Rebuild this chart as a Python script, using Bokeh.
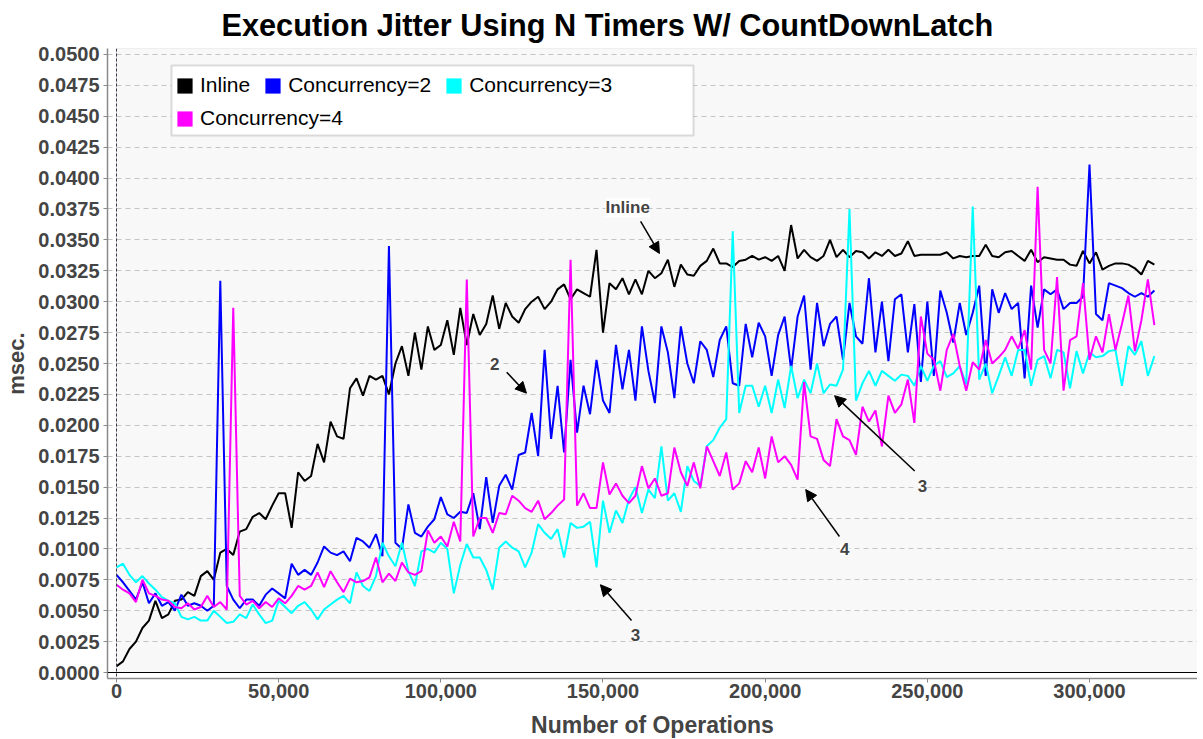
from bokeh.plotting import figure
from bokeh.models import (Range1d, FixedTicker, NumeralTickFormatter, Legend, LegendItem,
                          BoxAnnotation, Label, Arrow, NormalHead, Span)
from bokeh.embed import file_html
from bokeh.resources import INLINE

# ---------------- data (msec.) sampled every 2,000 operations ----------------
ops = list(range(0, 320001, 2000))

inline = [
    0.0005, 0.0009, 0.0019, 0.0025, 0.0036, 0.0042, 0.0058, 0.0044, 0.0047, 0.0058,
    0.0059, 0.0065, 0.0062, 0.0078, 0.0082, 0.0075, 0.0097, 0.0100, 0.0095, 0.0114,
    0.0116, 0.0126, 0.0129, 0.0124, 0.0135, 0.0145, 0.0145, 0.0117, 0.0162, 0.0155,
    0.0159, 0.0185, 0.0170, 0.0203, 0.0191, 0.0189, 0.0230, 0.0238, 0.0224, 0.0240,
    0.0237, 0.0240, 0.0225, 0.0250, 0.0264, 0.0240, 0.0275, 0.0245, 0.0280, 0.0261,
    0.0265, 0.0285, 0.0257, 0.0295, 0.0265, 0.0290, 0.0273, 0.0282, 0.0305, 0.0278,
    0.0299, 0.0288, 0.0283, 0.0294, 0.0300, 0.0304, 0.0294, 0.0300, 0.0310, 0.0314,
    0.0302, 0.0310, 0.0307, 0.0304, 0.0342, 0.0275, 0.0315, 0.0310, 0.0319, 0.0306,
    0.0318, 0.0306, 0.0325, 0.0319, 0.0323, 0.0334, 0.0312, 0.0330, 0.0322, 0.0321,
    0.0329, 0.0333, 0.0343, 0.0331, 0.0331, 0.0328, 0.0333, 0.0334, 0.0337, 0.0334,
    0.0336, 0.0333, 0.0337, 0.0325, 0.0362, 0.0335, 0.0342, 0.0336, 0.0333, 0.0337,
    0.0350, 0.0336, 0.0342, 0.0336, 0.0341, 0.0340, 0.0335, 0.0340, 0.0337, 0.0342,
    0.0337, 0.0339, 0.0349, 0.0337, 0.0338, 0.0338, 0.0338, 0.0338, 0.0340, 0.0335,
    0.0337, 0.0336, 0.0337, 0.0337, 0.0346, 0.0337, 0.0336, 0.0340, 0.0341, 0.0337,
    0.0333, 0.0342, 0.0332, 0.0336, 0.0335, 0.0334, 0.0334, 0.0330, 0.0329, 0.0341,
    0.0331, 0.0340, 0.0326, 0.0329, 0.0331, 0.0331, 0.0330, 0.0327, 0.0322, 0.0333,
    0.0330,
]

conc2 = [
    0.0079, 0.0073, 0.0066, 0.0059, 0.0073, 0.0056, 0.0064, 0.0054, 0.0057, 0.0050,
    0.0063, 0.0054, 0.0056, 0.0054, 0.0050, 0.0054, 0.0317, 0.0070, 0.0059, 0.0052,
    0.0059, 0.0059, 0.0054, 0.0063, 0.0068, 0.0064, 0.0060, 0.0088, 0.0079, 0.0083,
    0.0079, 0.0089, 0.0102, 0.0097, 0.0095, 0.0098, 0.0090, 0.0109, 0.0106, 0.0101,
    0.0112, 0.0094, 0.0345, 0.0105, 0.0100, 0.0136, 0.0113, 0.0110, 0.0118, 0.0124,
    0.0142, 0.0128, 0.0125, 0.0130, 0.0129, 0.0145, 0.0116, 0.0158, 0.0121, 0.0151,
    0.0160, 0.0148, 0.0176, 0.0178, 0.0210, 0.0175, 0.0261, 0.0189, 0.0232, 0.0178,
    0.0253, 0.0194, 0.0232, 0.0209, 0.0253, 0.0220, 0.0210, 0.0265, 0.0229, 0.0261,
    0.0220, 0.0280, 0.0244, 0.0218, 0.0280, 0.0259, 0.0222, 0.0280, 0.0250, 0.0234,
    0.0268, 0.0261, 0.0239, 0.0269, 0.0280, 0.0234, 0.0232, 0.0282, 0.0255, 0.0283,
    0.0272, 0.0240, 0.0273, 0.0288, 0.0245, 0.0288, 0.0305, 0.0245, 0.0299, 0.0264,
    0.0282, 0.0288, 0.0253, 0.0299, 0.0272, 0.0266, 0.0319, 0.0259, 0.0300, 0.0252,
    0.0302, 0.0306, 0.0259, 0.0298, 0.0235, 0.0300, 0.0240, 0.0309, 0.0291, 0.0267,
    0.0299, 0.0273, 0.0291, 0.0313, 0.0240, 0.0310, 0.0291, 0.0307, 0.0294, 0.0299,
    0.0238, 0.0313, 0.0279, 0.0310, 0.0306, 0.0310, 0.0294, 0.0299, 0.0299, 0.0304,
    0.0411, 0.0290, 0.0285, 0.0315, 0.0313, 0.0311, 0.0307, 0.0304, 0.0307, 0.0304,
    0.0309,
]

conc3 = [
    0.0085, 0.0088, 0.0079, 0.0073, 0.0078, 0.0072, 0.0067, 0.0061, 0.0058, 0.0056,
    0.0045, 0.0043, 0.0045, 0.0042, 0.0042, 0.0050, 0.0045, 0.0040, 0.0041, 0.0047,
    0.0044, 0.0055, 0.0047, 0.0040, 0.0042, 0.0058, 0.0053, 0.0048, 0.0054, 0.0057,
    0.0051, 0.0043, 0.0051, 0.0055, 0.0059, 0.0062, 0.0056, 0.0081, 0.0070, 0.0066,
    0.0078, 0.0105, 0.0094, 0.0086, 0.0105, 0.0082, 0.0070, 0.0098, 0.0100, 0.0097,
    0.0105, 0.0100, 0.0064, 0.0087, 0.0104, 0.0093, 0.0093, 0.0083, 0.0067, 0.0101,
    0.0106, 0.0101, 0.0098, 0.0085, 0.0097, 0.0120, 0.0113, 0.0108, 0.0116, 0.0093,
    0.0121, 0.0117, 0.0118, 0.0122, 0.0085, 0.0139, 0.0113, 0.0131, 0.0121, 0.0140,
    0.0150, 0.0129, 0.0148, 0.0141, 0.0183, 0.0139, 0.0145, 0.0130, 0.0167, 0.0155,
    0.0151, 0.0183, 0.0188, 0.0198, 0.0205, 0.0357, 0.0210, 0.0232, 0.0232, 0.0215,
    0.0232, 0.0210, 0.0237, 0.0214, 0.0248, 0.0222, 0.0237, 0.0226, 0.0250, 0.0226,
    0.0233, 0.0232, 0.0245, 0.0375, 0.0220, 0.0234, 0.0244, 0.0232, 0.0244, 0.0240,
    0.0236, 0.0241, 0.0240, 0.0232, 0.0248, 0.0236, 0.0248, 0.0252, 0.0239, 0.0242,
    0.0248, 0.0233, 0.0377, 0.0237, 0.0250, 0.0226, 0.0240, 0.0255, 0.0240, 0.0261,
    0.0261, 0.0232, 0.0253, 0.0256, 0.0238, 0.0261, 0.0259, 0.0230, 0.0260, 0.0242,
    0.0259, 0.0255, 0.0256, 0.0260, 0.0261, 0.0232, 0.0264, 0.0257, 0.0268, 0.0240,
    0.0256,
]

conc4 = [
    0.0071, 0.0067, 0.0064, 0.0057, 0.0075, 0.0064, 0.0062, 0.0059, 0.0058, 0.0053,
    0.0052, 0.0056, 0.0051, 0.0053, 0.0062, 0.0053, 0.0057, 0.0051, 0.0295, 0.0062,
    0.0055, 0.0058, 0.0052, 0.0057, 0.0053, 0.0060, 0.0056, 0.0062, 0.0070, 0.0067,
    0.0070, 0.0081, 0.0069, 0.0082, 0.0073, 0.0065, 0.0076, 0.0073, 0.0074, 0.0077,
    0.0093, 0.0073, 0.0080, 0.0074, 0.0089, 0.0081, 0.0079, 0.0082, 0.0115, 0.0105,
    0.0110, 0.0102, 0.0122, 0.0106, 0.0318, 0.0110, 0.0125, 0.0125, 0.0113, 0.0129,
    0.0128, 0.0143, 0.0139, 0.0133, 0.0130, 0.0139, 0.0124, 0.0129, 0.0135, 0.0140,
    0.0334, 0.0135, 0.0145, 0.0133, 0.0133, 0.0170, 0.0144, 0.0153, 0.0143, 0.0137,
    0.0143, 0.0167, 0.0149, 0.0157, 0.0143, 0.0145, 0.0182, 0.0162, 0.0151, 0.0170,
    0.0149, 0.0183, 0.0171, 0.0159, 0.0178, 0.0148, 0.0153, 0.0171, 0.0162, 0.0182,
    0.0157, 0.0191, 0.0170, 0.0175, 0.0168, 0.0156, 0.0235, 0.0191, 0.0189, 0.0172,
    0.0167, 0.0205, 0.0191, 0.0188, 0.0176, 0.0215, 0.0203, 0.0212, 0.0183, 0.0224,
    0.0210, 0.0217, 0.0237, 0.0202, 0.0288, 0.0258, 0.0253, 0.0228, 0.0261, 0.0274,
    0.0248, 0.0228, 0.0251, 0.0245, 0.0269, 0.0250, 0.0255, 0.0261, 0.0272, 0.0262,
    0.0277, 0.0245, 0.0393, 0.0261, 0.0250, 0.0320, 0.0228, 0.0269, 0.0272, 0.0315,
    0.0253, 0.0272, 0.0259, 0.0290, 0.0261, 0.0282, 0.0305, 0.0260, 0.0285, 0.0318,
    0.0281,
]

series_names = ["Inline", "Concurrency=2", "Concurrency=3", "Concurrency=4"]
series_colors = ["#000000", "#0000ff", "#00ffff", "#ff00ff"]

x_ticks = [0, 50000, 100000, 150000, 200000, 250000, 300000]
y_ticks = [0.0, 0.0025, 0.005, 0.0075, 0.01, 0.0125, 0.015, 0.0175, 0.02, 0.0225,
           0.025, 0.0275, 0.03, 0.0325, 0.035, 0.0375, 0.04, 0.0425, 0.045, 0.0475, 0.05]

title_text = "Execution Jitter Using N Timers W/ CountDownLatch"

# callout texts and arrows (text, x, y) / (x0, y0, x1, y1)
notes = [("Inline", 157600, 0.0376), ("2", 116600, 0.0250), ("3", 248500, 0.0151),
         ("4", 224500, 0.0100), ("3", 160000, 0.0030)]
arrows = [(161600, 0.0365, 167400, 0.0339), (120300, 0.0243, 126400, 0.0226),
          (246100, 0.0163, 221400, 0.0224), (222900, 0.0110, 212500, 0.0148),
          (158800, 0.0042, 149200, 0.0071)]

# ---------------- figure ----------------
FONT = "Liberation Sans"
FRAME_W, FRAME_H = 1090, 630
X_START, X_END = -2775, 333300
Y_START, Y_END = -0.000485, 0.050485

p = figure(frame_width=FRAME_W, frame_height=FRAME_H, output_backend="svg",
           toolbar_location=None,
           x_range=Range1d(X_START, X_END), y_range=Range1d(Y_START, Y_END),
           min_border_left=107, min_border_right=0, min_border_top=46, min_border_bottom=10)
p.background_fill_color = "white"
p.border_fill_color = "white"
p.outline_line_color = None

p.title.text = title_text
p.title.text_font = FONT
p.title.text_font_size = "30.7px"
p.title.text_font_style = "bold"
p.title.text_color = "#000000"
p.title.align = "left"
p.title.offset = 114
p.title.standoff = 11

# plot area
p.add_layout(BoxAnnotation(left=0, bottom=0, right=X_END, top=Y_END,
                           fill_color="#f8f8f8", fill_alpha=1.0,
                           line_color="#9a9a9a", line_width=1, level="image"))

# axes
for ax in (p.xaxis, p.yaxis):
    ax.axis_line_color = "#8a8a8a"
    ax.axis_line_width = 1.5
    ax.major_tick_line_color = "#8a8a8a"
    ax.major_tick_in = 0
    ax.major_tick_out = 4
    ax.minor_tick_line_color = None
    ax.major_label_text_font = FONT
    ax.major_label_text_font_style = "bold"
    ax.major_label_text_font_size = "20px"
    ax.major_label_text_color = "#444444"
    ax.axis_label_text_font = FONT
    ax.axis_label_text_font_style = "bold"
    ax.axis_label_text_color = "#444444"

p.xaxis.ticker = FixedTicker(ticks=x_ticks)
p.xaxis.formatter = NumeralTickFormatter(format="0,0")
p.xaxis.axis_label = "Number of Operations"
p.xaxis.axis_label_text_font_size = "23px"
p.xaxis.major_label_standoff = 1
p.xaxis.axis_label_standoff = 11

p.yaxis.ticker = FixedTicker(ticks=y_ticks)
p.yaxis.formatter = NumeralTickFormatter(format="0.0000")
p.yaxis.axis_label = "msec."
p.yaxis.axis_label_text_font_size = "22px"
p.yaxis.major_label_standoff = 4
p.yaxis.axis_label_standoff = 6

p.ygrid.ticker = FixedTicker(ticks=y_ticks)
p.ygrid.grid_line_color = "#c4c4c4"
p.ygrid.grid_line_dash = "5 4"
p.ygrid.grid_line_width = 1
p.ygrid.bounds = (0, X_END)
p.xgrid.grid_line_color = None

p.add_layout(Span(location=0, dimension="width", line_color="#000000", line_width=1.2))
p.add_layout(Span(location=0, dimension="height", line_color="#3a3a4a", line_width=1,
                  line_dash="3 2"))

# series
series = [inline, conc2, conc3, conc4]
for vals, col in zip(series, series_colors):
    p.line(ops, vals, line_color=col, line_width=2)

# legend swatches (hidden proxies so the legend shows filled squares)
swatches = []
for vals, col in zip(series, series_colors):
    swatches.append(p.rect(x=[ops[0]], y=[vals[0]], width=1, height=1, fill_color=col,
                           line_color=None, visible=False))

p.add_layout(BoxAnnotation(left=64, right=586, bottom=543, top=613,
                           left_units="screen", right_units="screen",
                           bottom_units="screen", top_units="screen",
                           fill_color="white", fill_alpha=1.0,
                           line_color="#8c8c8c", line_width=2))

def make_legend(idx, loc):
    lg = Legend(items=[LegendItem(label=series_names[i], renderers=[swatches[i]]) for i in idx],
                location=loc, orientation="horizontal",
                label_text_font=FONT, label_text_font_size="21px", label_text_color="#000000",
                glyph_width=19, glyph_height=19, label_standoff=6, spacing=13,
                padding=0, margin=0, border_line_color=None, background_fill_alpha=0)
    p.add_layout(lg)

make_legend([0, 1, 2], (68, 581))
make_legend([3], (68, 548))

# callouts
for txt, x, y in notes:
    p.add_layout(Label(x=x, y=y, text=txt, text_font=FONT, text_font_style="bold",
                       text_font_size="17px", text_align="center", text_baseline="middle",
                       background_fill_color="white", background_fill_alpha=1.0))
for x0, y0, x1, y1 in arrows:
    p.add_layout(Arrow(x_start=x0, y_start=y0, x_end=x1, y_end=y1, line_width=1.5,
                       line_color="black",
                       end=NormalHead(size=11, fill_color="black", line_color="black")))

open("out.html", "w").write(file_html(p, INLINE))
